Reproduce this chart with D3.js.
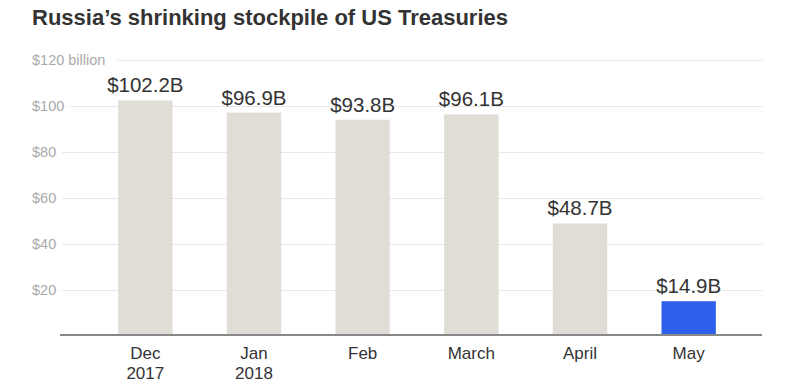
<!DOCTYPE html>
<html>
<head>
<meta charset="utf-8">
<script src="https://cdn.jsdelivr.net/npm/d3@7"></script>
<style>
  body { margin: 0; background: #fff; }
  svg text { font-family: "Liberation Sans", Arial, sans-serif; }
</style>
</head>
<body>
<div id="chart"></div>
<script>
// dane
var months = ["Dec|2017", "Jan|2018", "Feb", "March", "April", "May"];
var values = [102.2, 96.9, 93.8, 96.1, 48.7, 14.9];
var valueLabels = ["$102.2B", "$96.9B", "$93.8B", "$96.1B", "$48.7B", "$14.9B"];
var yTicks = [20, 40, 60, 80, 100, 120];

var width = 785, height = 385;

var svg = d3.select("#chart").append("svg")
    .attr("width", width)
    .attr("height", height);

// tytul
svg.append("text")
    .attr("x", 32)
    .attr("y", 25)
    .text("Russia\u2019s shrinking stockpile of US Treasuries")
    .style("font-size", "22px")
    .style("font-weight", "bold")
    .style("fill", "#333");

// skale
var x = d3.scaleBand()
    .domain(months)
    .range([91, 743])
    .paddingInner(0.5)
    .paddingOuter(0.25);

var y = d3.scaleLinear()
    .domain([0, 120])
    .range([335.5, 59.5]);

// siatka
svg.selectAll(".grid")
    .data(yTicks)
    .enter().append("line")
    .attr("class", "grid")
    .attr("x1", function(d){ return d == 120 ? 118 : (d == 100 ? 70 : 62); })
    .attr("x2", 762)
    .attr("y1", function(d){ return Math.round(y(d)) + 0.5; })
    .attr("y2", function(d){ return Math.round(y(d)) + 0.5; })
    .style("stroke", "#e8e8e8")
    .style("stroke-width", 1);

// etykiety osi y
svg.selectAll(".ylab")
    .data(yTicks)
    .enter().append("text")
    .attr("x", 32)
    .attr("y", function(d){ return y(d) + 5; })
    .text(function(d){ return "$" + d + (d == 120 ? " billion" : ""); })
    .style("font-size", "14.5px")
    .style("fill", "#aaa");

// slupki
svg.selectAll(".bar")
    .data(values)
    .enter().append("rect")
    .attr("x", function(d, i){ return x(months[i]); })
    .attr("width", x.bandwidth())
    .attr("y", function(d){ return y(d); })
    .attr("height", function(d){ return y(0) - y(d); })
    .style("fill", function(d, i){ return i == values.length - 1 ? "#2e5eea" : "#e0ddd6"; });

// wartosci
svg.selectAll(".val")
    .data(values)
    .enter().append("text")
    .attr("x", function(d, i){ return x(months[i]) + x.bandwidth() / 2; })
    .attr("y", function(d){ return y(d) - 8; })
    .attr("text-anchor", "middle")
    .text(function(d, i){ return valueLabels[i]; })
    .style("font-size", "20.5px")
    .style("fill", "#333");

// os x
svg.append("line")
    .attr("x1", 60).attr("x2", 762)
    .attr("y1", 335).attr("y2", 335)
    .style("stroke", "#888")
    .style("stroke-width", 2);

var xl = svg.selectAll(".xlab")
    .data(months)
    .enter().append("text")
    .attr("x", function(d){ return x(d) + x.bandwidth() / 2; })
    .attr("y", 359)
    .attr("text-anchor", "middle")
    .style("font-size", "17px")
    .style("fill", "#333");

xl.each(function(d){
    var parts = d.split("|");
    var t = d3.select(this);
    parts.forEach(function(p, j){
        t.append("tspan")
            .attr("x", t.attr("x"))
            .attr("dy", j == 0 ? 0 : 20)
            .text(p);
    });
});
</script>
</body>
</html>
